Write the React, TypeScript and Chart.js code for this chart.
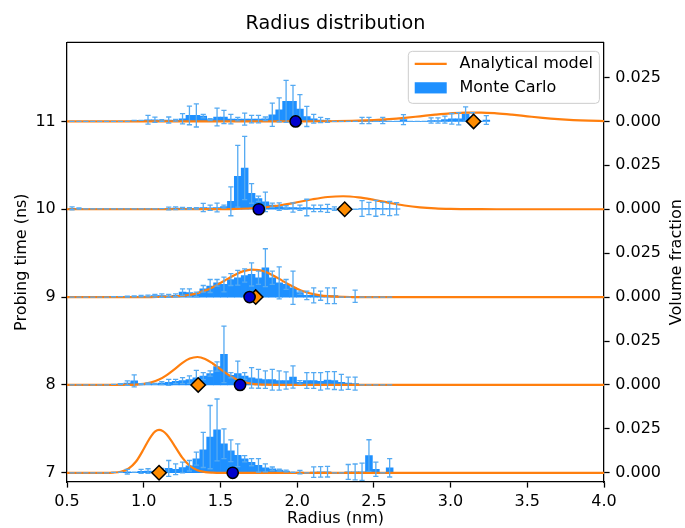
import React, { useEffect, useRef } from 'react';
import { Chart, registerables } from 'chart.js';

Chart.register(...registerables);

// ---------- text ----------
const chartTitle = 'Radius distribution';
const xAxisTitle = 'Radius (nm)';
const leftAxisTitle = 'Probing time (ns)';
const rightAxisTitle = 'Volume fraction';
const modelLabel = 'Analytical model';
const monteCarloLabel = 'Monte Carlo';

// ---------- axes ----------
const probingTimes = [7, 8, 9, 10, 11];
const radiusTicks = [0.5, 1.0, 1.5, 2.0, 2.5, 3.0, 3.5, 4.0];
const volumeFractionTicks = [0, 0.025];
const nsPerVolumeFraction = 20; // each row: 0.025 volume fraction spans 0.5 ns
const milli = 1e-3; // series below are in units of 1e-3 volume fraction

// ---------- Monte Carlo histogram (bin centres binStart + k*binWidth) ----------
const binStart = 0.533;
const binWidth = 0.045;

const mcFraction7 = [0, 0, 0, 0, 0, 0, 0.2, 0.3, 0.6, 0.3, 0.8, 1.0, 0.5, 1.5, 2.5, 2.0, 3.0, 4.0, 8.0, 13.0, 20.3, 24.4, 16.5, 12.5, 10.0, 8.0, 6.0, 4.2, 2.8, 2.3, 1.5, 1.0, 0.3, 0.4, 0, 0.4, 0.5, 0.6, 0, 0, 0.5, 0.5, 0.6, 9.8, 2.0, 0, 2.8];
const mcError7 = [0, 0, 0, 0, 0, 0, 0, 0, 1.3, 0, 1.1, 1.3, 0.3, 1.0, 4.5, 3.1, 3.1, 3.0, 3.7, 10, 18, 17.6, 8.5, 6.2, 6.5, 1.8, 2.0, 3.8, 2.3, 1.0, 0.5, 0.5, 0, 1.0, 0, 3.0, 3.0, 3.0, 0, 0, 4.2, 4.5, 4.9, 9.0, 4.1, 0, 5.2];

const mcFraction8 = [0, 0, 0, 0, 0, 0, 0.3, 0.5, 1.0, 2.3, 0.5, 0.8, 0.6, 1.0, 1.5, 2.0, 2.5, 3.0, 4.0, 5.0, 6.5, 10.5, 17.4, 5.5, 6.4, 5.1, 4.0, 3.5, 3.0, 3.0, 2.5, 2.5, 4.5, 1.5, 2.5, 2.5, 2.0, 2.7, 2.5, 1.5, 1.0, 0.8, 0, 0, 0, 0, 0];
const mcError8 = [0, 0, 0, 0, 0, 0, 0, 0.3, 1.3, 3.4, 0.3, 0.4, 0.3, 0.8, 1.7, 1.2, 1.7, 2.1, 4.3, 2.0, 1.5, 2.6, 16.1, 1.5, 7.2, 1.9, 5.8, 5.4, 5.0, 5.9, 5.5, 4.9, 6.3, 1.0, 4.5, 4.5, 5.0, 4.9, 5.1, 4.5, 3.5, 3.7, 0, 0, 0, 0, 0];

const mcFraction9 = [0, 0, 0, 0, 0, 0, 0.2, 0.3, 0.3, 0.4, 0.5, 0.6, 0.8, 0.8, 0.7, 1.0, 2.8, 2.5, 1.5, 4.7, 6.3, 8.1, 7.2, 10.0, 11.0, 12.3, 12.9, 11.0, 16.7, 11.0, 8.1, 7.2, 5.3, 2.5, 1.0, 1.0, 0.8, 0.8, 0.8, 0, 0, 0.5, 0, 0, 0, 0, 0];
const mcError9 = [0, 0, 0, 0, 0, 0, 0, 0, 0.3, 0.3, 0.4, 0.5, 0.8, 1.0, 0.8, 0.8, 1.9, 2.2, 1.3, 1.9, 3.7, 1.9, 4.2, 3.4, 4.2, 3.8, 6.6, 3.8, 10.8, 3.8, 9.1, 2.8, 9.5, 0.9, 2.4, 4.3, 2.6, 4.5, 4.5, 0, 0, 3.5, 0, 0, 0, 0, 0];

const mcFraction10 = [0.5, 0.4, 0.2, 0.2, 0.2, 0.2, 0.2, 0.2, 0.2, 0.2, 0.2, 0.2, 0.2, 0.3, 0.4, 0.6, 0.5, 0.4, 0.5, 1.0, 0.8, 1.0, 1.5, 4.5, 18.75, 23.5, 9.0, 6.0, 4.2, 2.3, 1.5, 1.0, 1.0, 0.8, 1.0, 0.5, 0.5, 0.5, 0.3, 0.3, 0, 0, 0.4, 0.4, 0.5, 0.4, 0.4, 0.3];
const mcError10 = [0.8, 0.3, 0, 0, 0, 0, 0, 0, 0, 0, 0, 0, 0, 0, 0.8, 0.8, 0.6, 0.5, 0.4, 2.3, 1.5, 2.5, 0.8, 8.2, 17.6, 18.0, 5.6, 1.5, 5.6, 1.2, 2.1, 1.0, 2.6, 1.5, 4.7, 1.8, 1.8, 2.3, 1.0, 1.0, 0, 0, 4.5, 3.5, 4.5, 3.5, 4.0, 3.5];

const mcFraction11 = [0, 0, 0, 0, 0, 0, 0, 0, 0, 0.5, 0.6, 0.9, 0.9, 0.5, 0.8, 0.6, 1.5, 3.4, 3.4, 3.0, 1.0, 2.5, 2.5, 1.3, 1.3, 1.3, 1.3, 1.3, 1.5, 3.8, 6.6, 11.4, 11.4, 7.0, 2.8, 1.5, 0.8, 0.5, 0, 0, 0, 0, 0.5, 0.5, 0, 0.5, 0, 0, 1.0, 0, 0, 0, 0.5, 0.5, 1.0, 1.5, 1.5, 4.2, 2.0, 0, 0.8];
const mcError11 = [0, 0, 0, 0, 0, 0, 0, 0, 0, 0, 0, 2.5, 1.5, 0.5, 1.7, 0.5, 2.9, 5.3, 6.6, 1.0, 0.5, 5.1, 3.75, 2.7, 1.0, 3.4, 2.1, 2.1, 1.0, 6.6, 6.8, 11.9, 9.1, 8.2, 5.7, 2.5, 1.5, 1.0, 0, 0, 0, 0, 1.8, 1.8, 0, 1.8, 0, 0, 2.8, 0, 0, 0, 1.5, 1.5, 2.0, 3.0, 3.5, 4.1, 3.0, 0, 2.5];

// ---------- analytical model curves (radius nm, fraction x1e-3) ----------
const modelRadius7 = [0.5, 0.75, 0.8, 0.85, 0.9, 0.95, 1.0, 1.025, 1.05, 1.075, 1.1, 1.125, 1.15, 1.175, 1.2, 1.25, 1.3, 1.35, 1.4, 1.45, 1.5, 1.6, 4.0];
const modelFraction7 = [0, 0, 0.12, 0.61, 2.3, 6.4, 13.5, 17.5, 21.0, 23.5, 24.4, 23.7, 21.8, 18.9, 15.5, 8.8, 4.0, 1.4, 0.41, 0.1, 0, 0, 0];

const modelRadius8 = [0.5, 0.85, 0.9, 0.95, 1.0, 1.05, 1.1, 1.15, 1.2, 1.25, 1.3, 1.35, 1.4, 1.45, 1.5, 1.55, 1.6, 1.65, 1.7, 1.75, 1.8, 1.9, 4.0];
const modelFraction8 = [0, 0, 0.07, 0.22, 0.6, 1.46, 3.07, 5.6, 8.9, 12.4, 15.0, 15.9, 14.8, 12.2, 9.0, 5.85, 3.4, 1.75, 0.79, 0.32, 0.12, 0, 0];

const modelRadius9 = [0.5, 1.05, 1.1, 1.15, 1.2, 1.25, 1.3, 1.35, 1.4, 1.45, 1.5, 1.55, 1.6, 1.65, 1.7, 1.75, 1.8, 1.85, 1.9, 1.95, 2.0, 2.05, 2.1, 2.15, 2.2, 2.25, 2.3, 2.35, 2.4, 4.0];
const modelFraction9 = [0, 0, 0.06, 0.15, 0.33, 0.67, 1.27, 2.24, 3.68, 5.63, 7.99, 10.5, 12.9, 14.76, 15.65, 15.42, 14.13, 12.03, 9.52, 7.0, 4.79, 3.05, 1.8, 0.99, 0.51, 0.24, 0.11, 0.04, 0, 0];

const modelRadius10 = [0.5, 1.3, 1.4, 1.5, 1.6, 1.7, 1.8, 1.9, 2.0, 2.1, 2.2, 2.3, 2.4, 2.5, 2.6, 2.7, 2.8, 2.9, 3.0, 3.1, 3.2, 3.3, 4.0];
const modelFraction10 = [0, 0, 0.02, 0.07, 0.22, 0.56, 1.25, 2.4, 3.97, 5.67, 6.97, 7.4, 6.77, 5.34, 3.63, 2.13, 1.08, 0.47, 0.18, 0.06, 0.02, 0, 0];

const modelRadius11 = [0.5, 1.8, 2.0, 2.2, 2.4, 2.5, 2.6, 2.7, 2.8, 2.9, 3.0, 3.1, 3.2, 3.3, 3.4, 3.5, 3.6, 3.7, 3.8, 3.9, 4.0];
const modelFraction11 = [0, 0, 0.01, 0.08, 0.39, 0.73, 1.27, 2.01, 2.91, 3.83, 4.6, 5.04, 5.04, 4.6, 3.83, 2.91, 2.01, 1.27, 0.73, 0.39, 0.18];

// ---------- mean radii per probing time ----------
const mcMeanRadius = [1.58, 1.628, 1.69, 1.75, 1.99];
const modelMeanRadius = [1.10, 1.355, 1.73, 2.31, 3.15];

// ---------- styles ----------
const barColor = '#1e90ff';
const errorColor = '#55aaf2';
const modelColor = '#ff7f0e';
const FONT = 'DejaVu Sans';

const rows = [
  { time: 7, mc: mcFraction7, err: mcError7, mx: modelRadius7, my: modelFraction7 },
  { time: 8, mc: mcFraction8, err: mcError8, mx: modelRadius8, my: modelFraction8 },
  { time: 9, mc: mcFraction9, err: mcError9, mx: modelRadius9, my: modelFraction9 },
  { time: 10, mc: mcFraction10, err: mcError10, mx: modelRadius10, my: modelFraction10 },
  { time: 11, mc: mcFraction11, err: mcError11, mx: modelRadius11, my: modelFraction11 },
];

function buildDatasets() {
  const ds: any[] = [];
  rows.forEach((row, i) => {
    const lift = (f: number) => row.time + f * milli * nsPerVolumeFraction;
    ds.push({
      type: 'bar',
      label: monteCarloLabel,
      legendRole: i === 0 ? 'mc' : undefined,
      rowIndex: i,
      data: row.mc.map((v, k) => ({
        x: binStart + k * binWidth,
        y: [row.time, lift(v)],
        err: row.err[k] * milli * nsPerVolumeFraction,
      })),
      backgroundColor: barColor,
      borderWidth: 0,
      barPercentage: 1,
      categoryPercentage: 1,
      grouped: false,
      order: 3,
      xAxisID: 'x',
      yAxisID: 'y',
    });
    ds.push({
      type: 'line',
      label: modelLabel,
      legendRole: i === 0 ? 'model' : undefined,
      rowIndex: i,
      data: row.mx.map((x, j) => ({ x, y: lift(row.my[j]) })),
      borderColor: modelColor,
      borderWidth: 2.2,
      pointRadius: 0,
      fill: false,
      cubicInterpolationMode: 'monotone',
      order: 2,
      xAxisID: 'x',
      yAxisID: 'y',
    });
  });
  ds.push({
    type: 'line',
    label: 'Model mean radius',
    showLine: false,
    data: probingTimes.map((t, i) => ({ x: modelMeanRadius[i], y: t })),
    pointStyle: 'rectRot',
    pointRadius: 7.2,
    pointBackgroundColor: '#ff8c00',
    pointBorderColor: '#000',
    pointBorderWidth: 1.5,
    order: 1,
    clip: false,
    xAxisID: 'x',
    yAxisID: 'y',
  });
  ds.push({
    type: 'line',
    label: 'Monte Carlo mean radius',
    showLine: false,
    data: probingTimes.map((t, i) => ({ x: mcMeanRadius[i], y: t })),
    pointStyle: 'circle',
    pointRadius: 5.6,
    pointBackgroundColor: '#0000cd',
    pointBorderColor: '#000',
    pointBorderWidth: 1.5,
    order: 0,
    clip: false,
    xAxisID: 'x',
    yAxisID: 'y',
  });
  return ds;
}

// error bars of a row are drawn right after that row's model line (above line, below markers)
const errorBarPlugin = {
  id: 'errorBars',
  afterDatasetDraw(chart: any, args: any) {
    const lineDs = chart.data.datasets[args.index];
    if (args.meta.type !== 'line' || lineDs.rowIndex === undefined) return;
    const ds = chart.data.datasets.find((d: any) => d.type === 'bar' && d.rowIndex === lineDs.rowIndex);
    if (!ds) return;
    const xs = chart.scales.x;
    const ys = chart.scales.y;
    const ctx = chart.ctx;
    const cap = 2.6;
    ctx.save();
    ctx.strokeStyle = errorColor;
    ctx.lineWidth = 1.3;
    ds.data.forEach((d: any) => {
      const px = xs.getPixelForValue(d.x);
      const top = ys.getPixelForValue(d.y[1] + d.err);
      const bot = ys.getPixelForValue(d.y[1] - d.err);
      ctx.beginPath();
      if (d.err > 0) {
        ctx.moveTo(px, top);
        ctx.lineTo(px, bot);
      }
      ctx.moveTo(px - cap, top);
      ctx.lineTo(px + cap, top);
      ctx.moveTo(px - cap, bot);
      ctx.lineTo(px + cap, bot);
      ctx.stroke();
    });
    ctx.restore();
  },
};

const framePlugin = {
  id: 'frameAndLabels',
  afterDatasetsDraw(chart: any) {
    const { ctx, chartArea } = chart;
    ctx.save();
    ctx.strokeStyle = '#000';
    ctx.lineWidth = 1.28;
    ctx.beginPath();
    ctx.moveTo(chartArea.left, chartArea.top);
    ctx.lineTo(chartArea.right, chartArea.top);
    ctx.stroke();
    ctx.restore();
  },
  afterDraw(chart: any) {
    const { ctx, chartArea } = chart;
    // right axis title (reads bottom-to-top)
    const rTitle = chart.options.scales.yR.title.text;
    ctx.save();
    ctx.fillStyle = '#000';
    ctx.font = `16px "${FONT}"`;
    ctx.textAlign = 'center';
    ctx.textBaseline = 'middle';
    ctx.translate(chartArea.right + 72.5, (chartArea.top + chartArea.bottom) / 2);
    ctx.rotate(-Math.PI / 2);
    ctx.fillText(rTitle, 0, 0);
    ctx.restore();

    // legend
    const dsets = chart.data.datasets;
    const modelDs = dsets.find((d: any) => d.legendRole === 'model');
    const mcDs = dsets.find((d: any) => d.legendRole === 'mc');
    const items = [
      { label: modelDs.label, kind: 'line', color: modelDs.borderColor },
      { label: mcDs.label, kind: 'patch', color: mcDs.backgroundColor },
    ];
    const fs = 16;
    ctx.save();
    ctx.font = `${fs}px "${FONT}"`;
    const textW = Math.max(...items.map((it) => ctx.measureText(it.label).width));
    const pad = 0.4 * fs;
    const handle = 2 * fs;
    const textPad = 0.8 * fs;
    const w = pad + handle + textPad + textW + pad;
    const h = 52;
    const x2 = chartArea.right - 4.6;
    const x1 = x2 - w;
    const y1 = chartArea.top + 9;
    ctx.beginPath();
    ctx.roundRect(x1, y1, w, h, 4);
    ctx.fillStyle = 'rgba(255,255,255,0.8)';
    ctx.fill();
    ctx.strokeStyle = '#cccccc';
    ctx.lineWidth = 1;
    ctx.stroke();
    items.forEach((it, i) => {
      const cy = y1 + 12.5 + i * 24;
      if (it.kind === 'line') {
        ctx.strokeStyle = it.color;
        ctx.lineWidth = 2.2;
        ctx.beginPath();
        ctx.moveTo(x1 + pad, cy);
        ctx.lineTo(x1 + pad + handle, cy);
        ctx.stroke();
      } else {
        ctx.fillStyle = it.color;
        ctx.fillRect(x1 + pad, cy - 5.6, handle, 11.2);
      }
      ctx.fillStyle = '#000';
      ctx.textAlign = 'left';
      ctx.textBaseline = 'middle';
      ctx.fillText(it.label, x1 + pad + handle + textPad, cy);
    });
    ctx.restore();
  },
};

const yMin = 6.895;
const yMax = 11.9;

const tickGrid = {
  drawOnChartArea: false,
  drawTicks: true,
  tickLength: 5.6,
  tickWidth: 1.28,
  tickColor: '#000',
  offset: false,
};
const border = { display: true, color: '#000', width: 1.28 };

export default function App() {
  const ref = useRef<HTMLCanvasElement>(null);
  useEffect(() => {
    document.body.style.margin = '0';
    Chart.defaults.font.family = FONT;
    Chart.defaults.font.size = 16;
    Chart.defaults.color = '#000';
    const chart = new Chart(ref.current as HTMLCanvasElement, {
      type: 'bar',
      data: { datasets: buildDatasets() },
      options: {
        responsive: false,
        animation: false,
        devicePixelRatio: 1,
        events: [],
        layout: { padding: 0 },
        plugins: {
          legend: { display: false },
          tooltip: { enabled: false },
          title: {
            display: true,
            text: chartTitle,
            font: { size: 19.2, weight: 'normal', family: FONT },
            color: '#000',
            padding: { top: 12.1, bottom: 7.2 },
            fullSize: false,
          },
        },
        scales: {
          x: {
            type: 'linear',
            min: 0.5,
            max: 4.0,
            offset: false,
            afterBuildTicks: (s: any) => {
              s.ticks = radiusTicks.map((v) => ({ value: v }));
            },
            ticks: {
              callback: (v: any) => Number(v).toFixed(1),
              padding: 4.6,
              maxRotation: 0,
              autoSkip: false,
              font: { size: 16 },
              color: '#000',
            },
            grid: tickGrid,
            border,
            title: { display: true, text: xAxisTitle, font: { size: 16 }, color: '#000', padding: { top: 0, bottom: 0 } },
            afterFit: (s: any) => {
              s.height = 46;
            },
          },
          y: {
            type: 'linear',
            position: 'left',
            min: yMin,
            max: yMax,
            afterBuildTicks: (s: any) => {
              s.ticks = probingTimes.map((v) => ({ value: v }));
            },
            ticks: { callback: (v: any) => String(v), padding: 5.6, autoSkip: false, font: { size: 16 }, color: '#000' },
            grid: tickGrid,
            border,
            title: { display: true, text: leftAxisTitle, font: { size: 16 }, color: '#000', padding: { top: 12.4, bottom: 0 } },
            afterFit: (s: any) => {
              s.width = 67;
            },
          },
          yR: {
            type: 'linear',
            position: 'right',
            min: yMin,
            max: yMax,
            afterBuildTicks: (s: any) => {
              s.ticks = probingTimes.flatMap((t) =>
                volumeFractionTicks.map((f) => ({ value: t + f * nsPerVolumeFraction }))
              );
            },
            ticks: {
              callback: (v: any) => {
                const base = Math.floor(Number(v) + 1e-9);
                return ((Number(v) - base) / nsPerVolumeFraction).toFixed(3);
              },
              padding: 5.6,
              autoSkip: false,
              font: { size: 16 },
              color: '#000',
            },
            grid: tickGrid,
            border,
            title: { display: false, text: rightAxisTitle },
            afterFit: (s: any) => {
              s.width = 81;
            },
          },
        },
      } as any,
      plugins: [errorBarPlugin, framePlugin],
    } as any);
    return () => chart.destroy();
  }, []);
  return (
    <div style={{ width: 685, height: 528 }}>
      <canvas ref={ref} width={685} height={528} style={{ display: 'block' }} />
    </div>
  );
}
